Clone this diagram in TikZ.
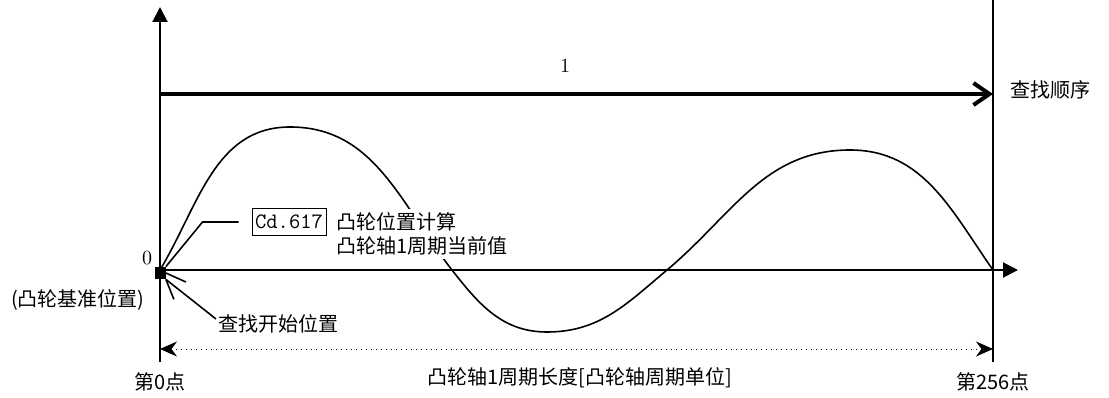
\documentclass[tikz,border=0pt]{standalone}
\usepackage{fontspec}
\newfontfamily\cjk{Noto Sans CJK SC}
\usetikzlibrary{arrows.meta,positioning}
\tikzset{
    axis line/.style={
        line width=1pt,
        -{Triangle[length=7.5pt,width=7.5pt]}
    },
    frame line/.style={line width=1pt},
    cam curve/.style={line width=0.8pt},
    order arrow/.style={
        line width=2pt,
        -{Straight Barb[length=8pt,width=11pt]}
    },
    span arrow/.style={
        line width=0.5pt, dotted,
        {Stealth[length=8.5pt,width=7.5pt]}-{Stealth[length=8.5pt,width=7.5pt]}
    },
    leader/.style={line width=0.8pt},
    label text/.style={font=\cjk, inner sep=1pt},
    cd box/.style={
        draw, line width=0.5pt, font=\ttfamily\fontsize{11}{13}\selectfont,
        minimum width=37pt, minimum height=13.5pt, inner sep=1pt
    },
    start mark/.style={
        fill, inner sep=0pt, minimum width=5.5pt, minimum height=6pt
    }
}

\begin{document}
\begin{tikzpicture}[x=0.5pt,y=0.5pt]
    \useasboundingbox (0,0) rectangle (1109,397);
    \coordinate (O) at (160,127);
    \coordinate (ytop) at (160,390);
    \coordinate (ybot) at (160,35);
    \coordinate (xend) at (1018,127);
    \coordinate (etop) at (993,397);
    \coordinate (ebot) at (993,35);
    \coordinate (seqstart) at (160,303);
    \coordinate (seqend) at (993,303);
    \coordinate (spanstart) at (160,48);
    \coordinate (spanend) at (993,48);

    \draw[axis line] (ybot) -- (ytop);
    \draw[axis line] (O) -- (xend);
    \draw[frame line] (ebot) -- (etop);
    \draw[order arrow] (seqstart) -- (seqend);
    \draw[span arrow] (spanstart) -- (spanend);

    \draw[cam curve] (O) to[out=59,in=180] (290,270)
        to[out=0,in=128] (452,127) to[out=-52,in=180] (547,65)
        to[out=0,in=220] (667,127) to[out=40,in=180] (850,247)
        to[out=0,in=125] (993,127);

    \node[start mark] (mark) at (160,124) {};
    \node (onelbl) at (565,331) {1};
    \node[label text, right] (seqlbl) at (1008,307) {查找顺序};
    \node[inner sep=1pt] (zero) at (147,139) {0};
    \node[label text] (reflbl) at (78,97) {(凸轮基准位置)};
    \node[cd box] (cdbox) at (289,175) {Cd.617};
    \node[label text, fill=white, inner sep=2pt, align=left, anchor=west] (cdtext) at (332,163)
        {凸轮位置计算\\凸轮轴1周期当前值};
    \node[label text, right] (startlbl) at (216,73) {查找开始位置};
    \node[label text] (p0) at (160,15) {第0点};
    \node[label text] (p256) at (993,15) {第256点};
    \node[label text] (spanlbl) at (580,19) {凸轮轴1周期长度[凸轮轴周期单位]};

    \draw[leader] ([xshift=-6.5pt]cdbox.west) -- ++(-36,0) -- (mark.north east);
    \draw[leader] (mark.south east) -- ([yshift=2.5pt]startlbl.west);
    \draw[leader] (mark.east) -- ++(20,-9);
    \draw[leader] (mark.south east) -- ++(8,-20);
\end{tikzpicture}
\end{document}
